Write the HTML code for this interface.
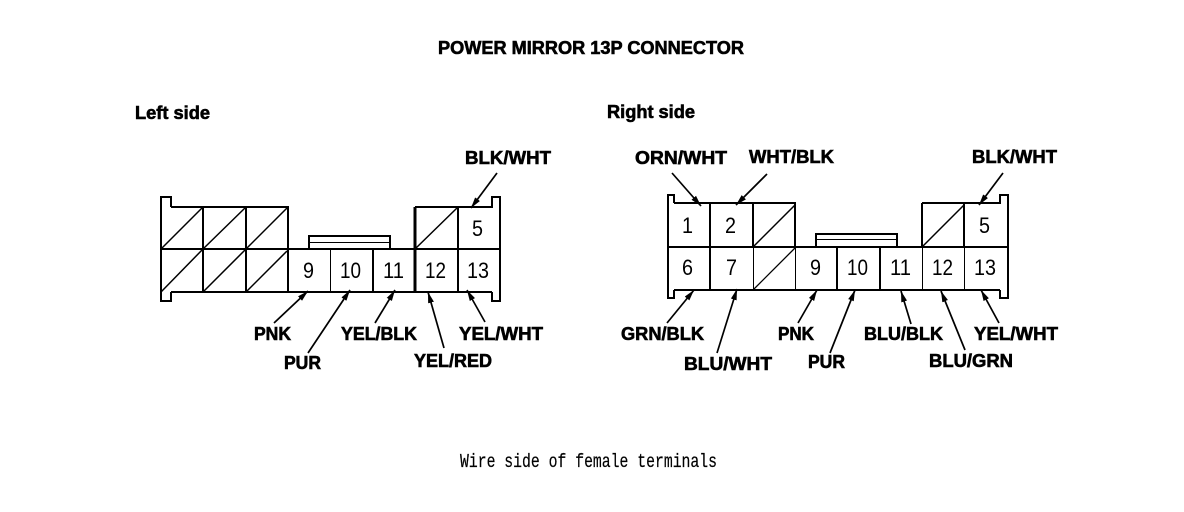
<!DOCTYPE html>
<html><head><meta charset="utf-8"><style>
html,body{margin:0;padding:0;background:#fff}
svg{display:block}
text{fill:#000;font-family:"Liberation Sans",sans-serif}
.l{font-weight:bold;font-size:18px;stroke:#000;stroke-width:.6px}
.n{font-size:22px}
.m{font-family:"Liberation Mono",monospace;font-size:19px;stroke:#000;stroke-width:.2px}
.t{stroke:#000;stroke-width:2;fill:none}
.h{stroke:#000;stroke-width:1;fill:none}
.a{stroke:#000;stroke-width:1.7;fill:none;marker-end:url(#ah)}
</style></head><body>
<svg width="1184" height="512" viewBox="0 0 1184 512" xmlns="http://www.w3.org/2000/svg">
<defs><marker id="ah" markerUnits="userSpaceOnUse" markerWidth="12" markerHeight="8" refX="11" refY="4" orient="auto"><path d="M0,1 L11,4 L0,7 Z" fill="#000"/></marker></defs>

<text class="l" x="438" y="54" textLength="306" lengthAdjust="spacingAndGlyphs">POWER MIRROR 13P CONNECTOR</text>
<text class="l" x="135" y="119" textLength="75" lengthAdjust="spacingAndGlyphs">Left side</text>
<text class="l" x="607" y="118" textLength="88" lengthAdjust="spacingAndGlyphs">Right side</text>
<text class="m" x="460" y="467" textLength="257" lengthAdjust="spacingAndGlyphs">Wire side of female terminals</text>

<!-- Left connector -->
<path class="t" d="M171,207 V197 H161 V301 H171 V292 M171,207 H288 V249 M161,249 H500 M171,292 H492 M203,207 V292 M246,207 V292 M288,249 V292 M373,249 V292 M458,207 V292 M492,292 V301 H500 V197 H492 V207 H415 M309,249 V236 H390 V249"/>
<path d="M415,207 V292" stroke="#000" stroke-width="3"/>
<path class="h" d="M330.5,249 V292 M309,242.5 H390"/>
<path class="t" d="M161,249 L203,207 M203,249 L246,207 M246,249 L288,207 M161,292 L203,249 M203,292 L246,249 M246,292 L287,251 M415,249 L457,208" style="stroke-width:1.5"/>

<text class="n" x="472" y="236" textLength="11" lengthAdjust="spacingAndGlyphs">5</text>
<text class="n" x="303" y="278" textLength="11" lengthAdjust="spacingAndGlyphs">9</text>
<text class="n" x="340" y="278" textLength="21" lengthAdjust="spacingAndGlyphs">10</text>
<text class="n" x="383" y="278" textLength="21" lengthAdjust="spacingAndGlyphs">11</text>
<text class="n" x="425" y="278" textLength="21" lengthAdjust="spacingAndGlyphs">12</text>
<text class="n" x="467" y="278" textLength="22" lengthAdjust="spacingAndGlyphs">13</text>

<path class="a" d="M497,173 L471,208"/>
<path class="a" d="M274,323 L308,291"/>
<path class="a" d="M308,353 L350,290"/>
<path class="a" d="M375,323 L395,290"/>
<path class="a" d="M444,348 L428,292"/>
<path class="a" d="M485,322 L467,290"/>

<text class="l" x="465" y="164" textLength="86" lengthAdjust="spacingAndGlyphs">BLK/WHT</text>
<text class="l" x="254" y="340" textLength="37" lengthAdjust="spacingAndGlyphs">PNK</text>
<text class="l" x="284" y="369" textLength="37" lengthAdjust="spacingAndGlyphs">PUR</text>
<text class="l" x="341" y="340" textLength="76" lengthAdjust="spacingAndGlyphs">YEL/BLK</text>
<text class="l" x="459" y="340" textLength="84" lengthAdjust="spacingAndGlyphs">YEL/WHT</text>
<text class="l" x="414" y="367" textLength="78" lengthAdjust="spacingAndGlyphs">YEL/RED</text>

<!-- Right connector -->
<path class="t" d="M674,203 V195 H668 V298 H674 V290 M674,203 H795 V247 M668,247 H1008 M674,290 H1000 M710,203 V290 M837,247 V290 M880,247 V290 M922,203 V247 M964,203 V247 M1000,290 V298 H1008 V195 H1000 V203 H922"/>
<path class="t" d="M816,247 V234 H897 V247"/>
<path class="t" d="M753,203 V247"/>
<path class="h" d="M753.5,247 V290 M795.5,247 V290 M922.5,247 V290 M964.5,247 V290 M816,239.5 H897"/>
<path class="t" d="M753,247 L795,205 M922,247 L964,205" style="stroke-width:1.5"/>
<path class="h" d="M753,290 L795,248" style="stroke-width:1.3"/>

<text class="n" x="682" y="233" textLength="11" lengthAdjust="spacingAndGlyphs">1</text>
<text class="n" x="725" y="233" textLength="11" lengthAdjust="spacingAndGlyphs">2</text>
<text class="n" x="979" y="233" textLength="11" lengthAdjust="spacingAndGlyphs">5</text>
<text class="n" x="682" y="275" textLength="11" lengthAdjust="spacingAndGlyphs">6</text>
<text class="n" x="726" y="275" textLength="11" lengthAdjust="spacingAndGlyphs">7</text>
<text class="n" x="810" y="275" textLength="11" lengthAdjust="spacingAndGlyphs">9</text>
<text class="n" x="847" y="275" textLength="21" lengthAdjust="spacingAndGlyphs">10</text>
<text class="n" x="890" y="275" textLength="21" lengthAdjust="spacingAndGlyphs">11</text>
<text class="n" x="932" y="275" textLength="21" lengthAdjust="spacingAndGlyphs">12</text>
<text class="n" x="974" y="275" textLength="22" lengthAdjust="spacingAndGlyphs">13</text>

<path class="a" d="M672,173 L701,206"/>
<path class="a" d="M767,174 L736,205"/>
<path class="a" d="M1003,173 L979,205"/>
<path class="a" d="M667,323 L694,290"/>
<path class="a" d="M717,353 L737,289"/>
<path class="a" d="M798,323 L817,290"/>
<path class="a" d="M830,353 L855,290"/>
<path class="a" d="M911,324 L901,291"/>
<path class="a" d="M965,350 L941,291"/>
<path class="a" d="M999,323 L981,290"/>

<text class="l" x="635" y="164" textLength="92" lengthAdjust="spacingAndGlyphs">ORN/WHT</text>
<text class="l" x="749" y="163" textLength="85" lengthAdjust="spacingAndGlyphs">WHT/BLK</text>
<text class="l" x="972" y="163" textLength="85" lengthAdjust="spacingAndGlyphs">BLK/WHT</text>
<text class="l" x="621" y="340" textLength="83" lengthAdjust="spacingAndGlyphs">GRN/BLK</text>
<text class="l" x="684" y="370" textLength="88" lengthAdjust="spacingAndGlyphs">BLU/WHT</text>
<text class="l" x="778" y="340" textLength="36" lengthAdjust="spacingAndGlyphs">PNK</text>
<text class="l" x="808" y="368" textLength="37" lengthAdjust="spacingAndGlyphs">PUR</text>
<text class="l" x="864" y="340" textLength="79" lengthAdjust="spacingAndGlyphs">BLU/BLK</text>
<text class="l" x="929" y="367" textLength="84" lengthAdjust="spacingAndGlyphs">BLU/GRN</text>
<text class="l" x="974" y="340" textLength="84" lengthAdjust="spacingAndGlyphs">YEL/WHT</text>
</svg>
</body></html>
